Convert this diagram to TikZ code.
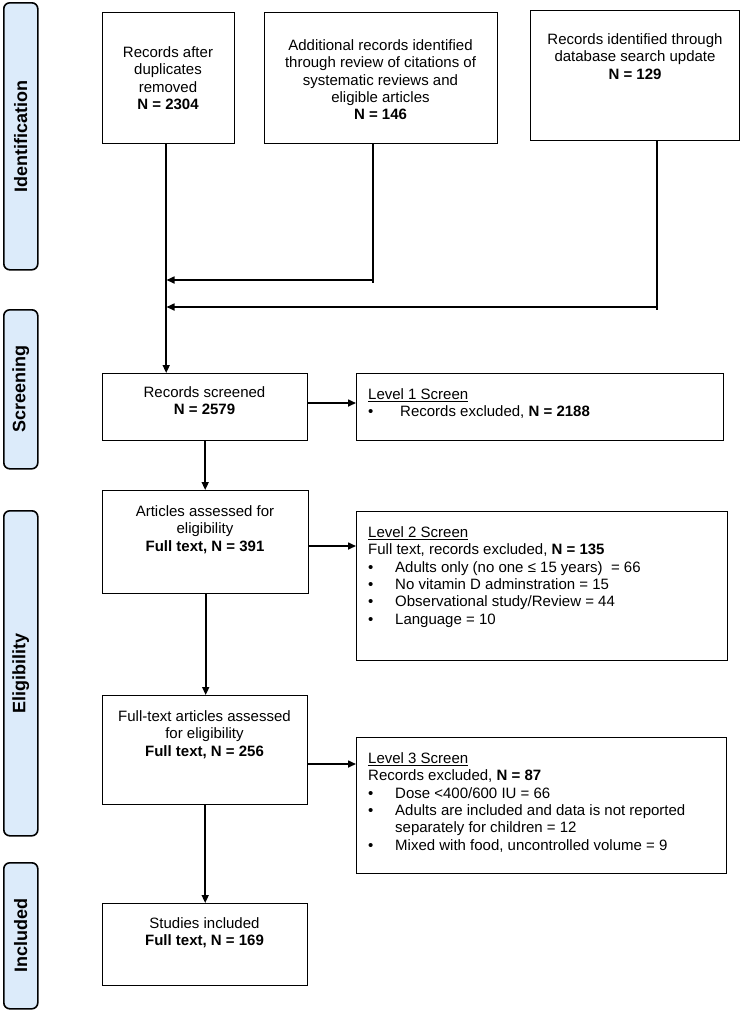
\documentclass[tikz,border=0pt]{standalone}
\usepackage{fontspec}
\setmainfont{Liberation Sans}
\usetikzlibrary{arrows.meta}
\definecolor{phasefill}{RGB}{220,235,250}
\begin{document}
\begin{tikzpicture}[x=1pt,y=-1pt,
  phase/.style={draw=black, line width=1.6pt, fill=phasefill, rounded corners=6pt, inner sep=0pt, anchor=north west},
  phaselabel/.style={rotate=90, font=\fontsize{18}{20}\selectfont\bfseries, inner sep=0pt},
  box/.style={draw=black, line width=1.4pt, inner sep=0pt, anchor=north west},
  txt/.style={inner sep=0pt, align=center, font=\fontsize{15}{17.3}\selectfont, anchor=north},
  ltxt/.style={inner sep=0pt, align=left, font=\fontsize{15}{17.3}\selectfont, anchor=north west},
  conn/.style={line width=1.6pt},
  arr/.style={line width=1.6pt, -{Triangle[length=8pt,width=7pt]}},
]
\useasboundingbox (0,0) rectangle (740,1013);

% phase bars
\node[phase, minimum width=34pt, minimum height=267pt] (pid) at (3,2) {};
\node[phaselabel] (lid) at (pid.center) {Identification};
\node[phase, minimum width=34pt, minimum height=159pt] (psc) at (3,309) {};
\node[phaselabel] (lsc) at (psc.center) {Screening};
\node[phase, minimum width=34pt, minimum height=325pt] (pel) at (3,510) {};
\node[phaselabel] (lel) at (pel.center) {Eligibility};
\node[phase, minimum width=34pt, minimum height=146pt] (pin) at (3,862) {};
\node[phaselabel] (lin) at (pin.center) {Included};

% identification boxes
\node[box, minimum width=132pt, minimum height=131pt] (b1) at (102,12) {};
\node[txt] (t1) at (168,46.5) {Records after\\duplicates\\removed\\\textbf{N = 2304}};
\node[box, minimum width=233pt, minimum height=131pt] (b2) at (264,12) {};
\node[txt] (t2) at (380.5,39.5) {Additional records identified\\through review of citations of\\systematic reviews and\\eligible articles\\\textbf{N = 146}};
\node[box, minimum width=209pt, minimum height=130pt] (b3) at (530,10) {};
\node[txt] (t3) at (635,33.5) {Records identified through\\database search update\\\textbf{N = 129}};

% left column
\node[box, minimum width=205pt, minimum height=67pt] (rs) at (102,373) {};
\node[txt] (trs) at (204.5,386.5) {Records screened\\\textbf{N = 2579}};
\node[box, minimum width=206pt, minimum height=103pt] (art) at (102,490) {};
\node[txt] (tart) at (205,505.5) {Articles assessed for\\eligibility\\\textbf{Full text, N = 391}};
\node[box, minimum width=205pt, minimum height=109pt] (ft) at (102,695) {};
\node[txt] (tft) at (204.5,710.5) {Full-text articles assessed\\for eligibility\\\textbf{Full text, N = 256}};
\node[box, minimum width=205pt, minimum height=82pt] (st) at (102,903) {};
\node[txt] (tst) at (204.5,917.5) {Studies included\\\textbf{Full text, N = 169}};

% exclusion boxes
\node[box, minimum width=367pt, minimum height=67pt] (l1) at (356,373) {};
\node[ltxt] (tl1) at (368,388.5) {\underline{Level 1 Screen}\\\makebox[32pt][l]{\textbullet}Records excluded, \textbf{N = 2188}};
\node[box, minimum width=371pt, minimum height=149pt] (l2) at (356,511) {};
\node[ltxt] (tl2) at (368,526.5) {\underline{Level 2 Screen}\\Full text, records excluded, \textbf{N = 135}\\
\makebox[27pt][l]{\textbullet}Adults only (no one ≤ 15 years)~ = 66\\
\makebox[27pt][l]{\textbullet}No vitamin D adminstration = 15\\
\makebox[27pt][l]{\textbullet}Observational study/Review = 44\\
\makebox[27pt][l]{\textbullet}Language = 10};
\node[box, minimum width=370pt, minimum height=136pt] (l3) at (356,737) {};
\node[ltxt] (tl3) at (368,752.5) {\underline{Level 3 Screen}\\Records excluded, \textbf{N = 87}\\
\makebox[27pt][l]{\textbullet}Dose <400/600 IU = 66\\
\makebox[27pt][l]{\textbullet}Adults are included and data is not reported\\
\hspace*{27pt}separately for children = 12\\
\makebox[27pt][l]{\textbullet}Mixed with food, uncontrolled volume = 9};

% connectors in identification
\coordinate (j2) at (373,280);
\coordinate (j3) at (657,307);
\coordinate (v2) at (166.5,280);
\coordinate (v3) at (166.5,307);
\draw[arr] ([xshift=-2.5pt]b1.south) -- ([xshift=-2.5pt]b1.south |- rs.north);
\draw[conn] (b2.south -| j2) -- ([yshift=-2.5pt]j2);
\draw[arr] (j2) -- (v2);
\draw[conn] (b3.south -| j3) -- ([yshift=-2.5pt]j3);
\draw[arr] (j3) -- (v3);

% main flow
\draw[arr] (rs.east |- 0,403) -- (l1.west |- 0,403);
\draw[arr] (rs.south) -- (rs.south |- art.north);
\draw[arr] (art.east |- 0,546) -- (l2.west |- 0,546);
\draw[arr] (art.south) -- (art.south |- ft.north);
\draw[arr] (ft.east |- 0,764) -- (l3.west |- 0,764);
\draw[arr] (ft.south) -- (ft.south |- st.north);
\end{tikzpicture}
\end{document}
